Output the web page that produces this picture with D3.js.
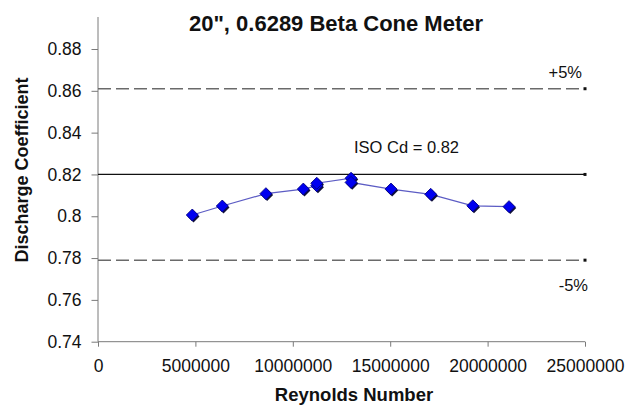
<!DOCTYPE html>
<html>
<head>
<meta charset="utf-8">
<script src="https://cdn.jsdelivr.net/npm/d3@7"></script>
<style>
  html, body { margin: 0; padding: 0; background: #fff; }
  svg { display: block; font-family: Arial, "Liberation Sans", sans-serif; }
</style>
</head>
<body>
<svg id="chart" width="635" height="406"></svg>
<script>
// Reynolds number of each test point
const reynolds = [4840000, 6380000, 8620000, 10540000, 11230000, 11230000,
                  12990000, 12990000, 15040000, 17080000, 19240000, 21100000];
// Measured discharge coefficient at each point
const dischargeCd = [0.8006, 0.8049, 0.8108, 0.8130, 0.8146, 0.8158,
                     0.8182, 0.8162, 0.8130, 0.8105, 0.8050, 0.8046];

// Reference coefficient and the ±5% band
const isoCd = 0.82;
const bandLabels = ["+5%", "-5%"];
const bandFactors = [1.05, 0.95];
const refSpan = [0, 25000000];

const xTicks = [0, 5000000, 10000000, 15000000, 20000000, 25000000];
const yTicks = [0.74, 0.76, 0.78, 0.80, 0.82, 0.84, 0.86, 0.88];

const svg = d3.select("#chart");
const left = 98, right = 585, bottom = 341.7, tickTop = 49, axisTop = 17;

const x = d3.scaleLinear().domain([0, 25000000]).range([left, right]);
const y = d3.scaleLinear().domain([0.74, 0.88]).range([bottom, tickTop]);

const axisColor = "#7a7a7a";
const font = "Arial, 'Liberation Sans', sans-serif";

// Title
svg.append("text")
  .attr("x", 336).attr("y", 30.5)
  .attr("text-anchor", "middle")
  .attr("font-size", 22).attr("font-weight", "bold")
  .attr("fill", "#111")
  .text('20", 0.6289 Beta Cone Meter');

// Y axis
const yAxis = svg.append("g")
  .attr("transform", `translate(${left},0)`)
  .call(d3.axisLeft(y).tickValues(yTicks).tickSize(6.5).tickPadding(10)
        .tickFormat(d => d3.format("")(+d.toFixed(2))));
yAxis.select(".domain").remove();
yAxis.append("line")
  .attr("x1", 0).attr("x2", 0).attr("y1", axisTop).attr("y2", bottom)
  .attr("stroke", axisColor);
yAxis.selectAll(".tick line").attr("stroke", axisColor);
yAxis.selectAll(".tick text")
  .attr("font-size", 17.5).attr("fill", "#111")
  .attr("font-family", font);

// X axis
const xAxis = svg.append("g")
  .attr("transform", `translate(0,${bottom})`)
  .call(d3.axisBottom(x).tickValues(xTicks).tickSize(5).tickPadding(13)
        .tickFormat(d3.format("d")));
xAxis.select(".domain").remove();
xAxis.append("line")
  .attr("x1", left).attr("x2", right).attr("y1", 0).attr("y2", 0)
  .attr("stroke", axisColor);
xAxis.selectAll(".tick line").attr("stroke", axisColor);
xAxis.selectAll(".tick text")
  .attr("font-size", 17.5).attr("fill", "#111")
  .attr("font-family", font);

// Axis titles
svg.append("text")
  .attr("transform", "translate(28,170) rotate(-90)")
  .attr("text-anchor", "middle")
  .attr("font-size", 18).attr("font-weight", "bold").attr("fill", "#111")
  .text("Discharge Coefficient");
svg.append("text")
  .attr("x", 354).attr("y", 401)
  .attr("text-anchor", "middle")
  .attr("font-size", 18.5).attr("font-weight", "bold").attr("fill", "#111")
  .text("Reynolds Number");

// ISO reference line
svg.append("line")
  .attr("x1", x(refSpan[0])).attr("x2", x(refSpan[1]))
  .attr("y1", y(isoCd)).attr("y2", y(isoCd))
  .attr("stroke", "#111").attr("stroke-width", 1.3);
svg.append("rect")
  .attr("x", x(refSpan[1]) - 1.5).attr("y", y(isoCd) - 1.5)
  .attr("width", 3).attr("height", 3).attr("fill", "#111");
svg.append("text")
  .attr("x", 406.5).attr("y", 153)
  .attr("text-anchor", "middle")
  .attr("font-size", 16.5).attr("fill", "#111")
  .text("ISO Cd = " + isoCd);

// ±5% band lines
const bandLabelPos = [{ x: 582, y: 78 }, { x: 588, y: 290.5 }];
bandFactors.forEach((f, i) => {
  const v = isoCd * f;
  svg.append("line")
    .attr("x1", x(refSpan[0])).attr("x2", x(refSpan[1]))
    .attr("y1", y(v)).attr("y2", y(v))
    .attr("stroke", "#6a6a6a").attr("stroke-width", 1.5)
    .attr("stroke-dasharray", "13,5");
  svg.append("rect")
    .attr("x", x(refSpan[1]) - 1.5).attr("y", y(v) - 1.5)
    .attr("width", 3).attr("height", 3).attr("fill", "#111");
  svg.append("text")
    .attr("x", bandLabelPos[i].x).attr("y", bandLabelPos[i].y)
    .attr("text-anchor", "end")
    .attr("font-size", 16.5).attr("fill", "#111")
    .text(bandLabels[i]);
});

// Measured series
const pts = reynolds.map((r, i) => ({ r, cd: dischargeCd[i] }));
svg.append("path")
  .datum(pts)
  .attr("fill", "none")
  .attr("stroke", "#5c5cc4").attr("stroke-width", 1.2)
  .attr("d", d3.line().x(d => x(d.r)).y(d => y(d.cd)));

const diamond = d3.symbol().type(d3.symbolSquare).size(72);
const marks = svg.append("g");
marks.selectAll("path.shadow")
  .data(pts).join("path")
  .attr("class", "shadow")
  .attr("transform", d => `translate(${x(d.r) + 1.2},${y(d.cd) + 1.4}) rotate(45)`)
  .attr("d", diamond)
  .attr("fill", "#10103a");
marks.selectAll("path.mark")
  .data(pts).join("path")
  .attr("class", "mark")
  .attr("transform", d => `translate(${x(d.r)},${y(d.cd)}) rotate(45)`)
  .attr("d", diamond)
  .attr("fill", "#0000f0").attr("stroke", "#000080").attr("stroke-width", 0.8);
</script>
</body>
</html>
